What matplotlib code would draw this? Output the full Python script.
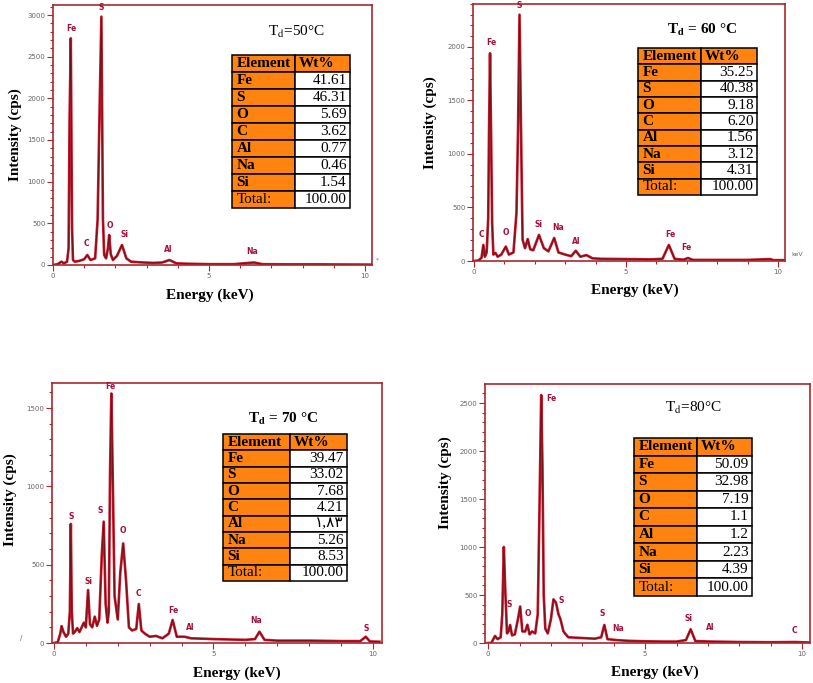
import matplotlib
matplotlib.use('Agg')
import matplotlib.pyplot as plt
from matplotlib.ticker import MultipleLocator

plt.rcParams['mathtext.fontset'] = 'stix'
plt.rcParams['font.family'] = ['Liberation Serif', 'DejaVu Sans']

# Data
elements = ['Fe', 'S', 'O', 'C', 'Al', 'Na', 'Si', 'Total:']
wt_50 = ['41.61', '46.31', '5.69', '3.62', '0.77', '0.46', '1.54', '100.00']
wt_60 = ['35.25', '40.38', '9.18', '6.20', '1.56', '3.12', '4.31', '100.00']
wt_70 = ['39.47', '33.02', '7.68', '4.21', '\u0661,\u0668\u0663', '5.26', '8.53', '100.00']
wt_80 = ['50.09', '32.98', '7.19', '1.1', '1.2', '2.23', '4.39', '100.00']

# spectra (keV, cps)
energy_50 = [0.0, 0.15, 0.27, 0.35, 0.45, 0.50, 0.53, 0.57, 0.61, 0.64, 0.70, 0.85, 1.00, 1.10, 1.20,
             1.35, 1.43, 1.48, 1.55, 1.60, 1.64, 1.70, 1.76, 1.80, 1.85, 1.92, 2.05, 2.21, 2.35, 2.50,
             2.68, 2.90, 3.20, 3.50, 3.73, 3.95, 4.30, 5.0, 5.8, 6.44, 6.7, 7.5, 8.5, 9.5, 10.2]
counts_50 = [0, 10, 40, 20, 40, 200, 1700, 2720, 450, 60, 40, 50, 70, 120, 60,
             80, 550, 1600, 2980, 550, 120, 80, 200, 360, 130, 60, 110, 240, 80, 40,
             35, 30, 25, 30, 60, 20, 15, 10, 10, 30, 10, 8, 8, 6, 5]

energy_60 = [0.0, 0.15, 0.25, 0.31, 0.36, 0.42, 0.47, 0.50, 0.53, 0.56, 0.60, 0.64, 0.71, 0.78, 0.90,
             1.05, 1.15, 1.30, 1.40, 1.45, 1.50, 1.55, 1.60, 1.68, 1.77, 1.85, 1.95, 2.14, 2.30, 2.45,
             2.64, 2.78, 3.0, 3.2, 3.35, 3.5, 3.7, 3.9, 4.2, 5.0, 5.8, 6.2, 6.41, 6.6, 6.9,
             7.04, 7.2, 8.0, 9.0, 9.74, 9.85, 10.2]
counts_60 = [0, 5, 30, 150, 40, 80, 400, 1280, 1940, 1280, 350, 60, 75, 40, 60,
             135, 60, 80, 450, 1200, 2300, 1200, 200, 120, 205, 110, 100, 243, 120, 90,
             215, 80, 60, 45, 96, 40, 55, 25, 20, 18, 15, 20, 150, 20, 12,
             28, 10, 10, 10, 18, 8, 8]

energy_70 = [0.0, 0.12, 0.20, 0.24, 0.30, 0.38, 0.45, 0.50, 0.53, 0.56, 0.60, 0.67, 0.73, 0.80, 0.94,
             1.0, 1.07, 1.13, 1.20, 1.28, 1.35, 1.42, 1.50, 1.56, 1.62, 1.68, 1.72, 1.76, 1.80, 1.84,
             1.90, 2.00, 2.08, 2.17, 2.26, 2.35, 2.45, 2.58, 2.66, 2.74, 2.85, 3.0, 3.2, 3.4, 3.6,
             3.72, 3.85, 4.09, 4.3, 5.0, 6.0, 6.3, 6.44, 6.6, 7.0, 8.0, 9.0, 9.6, 9.77, 9.9, 10.2]
counts_70 = [0, 5, 60, 108, 70, 40, 60, 200, 760, 200, 60, 75, 95, 70, 130,
             100, 338, 120, 100, 168, 110, 150, 560, 775, 250, 130, 200, 1100, 1593, 1100,
             300, 150, 450, 636, 400, 100, 80, 90, 249, 80, 60, 40, 45, 30, 60,
             147, 40, 40, 30, 25, 20, 25, 72, 20, 15, 15, 12, 12, 40, 10, 8]

energy_80 = [0.0, 0.1, 0.22, 0.30, 0.40, 0.45, 0.50, 0.54, 0.60, 0.65, 0.70, 0.76, 0.85, 0.95, 1.02,
             1.09, 1.18, 1.25, 1.32, 1.40, 1.50, 1.58, 1.64, 1.69, 1.73, 1.77, 1.82, 1.90, 2.00, 2.08,
             2.16, 2.24, 2.30, 2.40, 2.55, 2.8, 3.1, 3.4, 3.6, 3.70, 3.8, 4.1, 4.5, 5.0, 5.6,
             6.0, 6.3, 6.45, 6.6, 7.1, 8.0, 9.0, 9.78, 10.2]
counts_80 = [0, 0, 73, 40, 60, 300, 1000, 600, 100, 120, 188, 80, 90, 250, 380,
             120, 120, 190, 90, 120, 100, 300, 1500, 2583, 1830, 500, 150, 100, 250, 455,
             420, 300, 250, 120, 60, 55, 50, 45, 60, 188, 40, 30, 22, 18, 15,
             15, 30, 143, 20, 15, 10, 8, 10, 6]

# peak labels (name, keV, cps)
peaks_50 = ['Fe', 'S', 'C', 'O', 'Si', 'Al', 'Na']
peak_x_50 = [0.60, 1.55, 1.08, 1.83, 2.28, 3.69, 6.38]
peak_y_50 = [2785, 3040, 200, 420, 310, 130, 108]

peaks_60 = ['C', 'Fe', 'S', 'O', 'Si', 'Na', 'Al', 'Fe', 'Fe']
peak_x_60 = [0.26, 0.56, 1.48, 1.05, 2.14, 2.76, 3.38, 6.45, 7.0]
peak_y_60 = [205, 2000, 2345, 227, 300, 270, 143, 205, 80]

peaks_70 = ['S', 'Si', 'S', 'Fe', 'O', 'C', 'Fe', 'Al', 'Na', 'S']
peak_x_70 = [0.53, 1.07, 1.44, 1.78, 2.17, 2.66, 3.73, 4.27, 6.33, 9.77]
peak_y_70 = [780, 364, 817, 1608, 689, 287, 179, 72, 115, 64]

peaks_80 = ['Fe', 'S', 'O', 'S', 'S', 'Na', 'Si', 'Al', 'C']
peak_x_80 = [2.0, 0.67, 1.28, 2.32, 3.63, 4.14, 6.37, 7.07, 9.75]
peak_y_80 = [2500, 354, 260, 396, 260, 104, 208, 118, 83]

titles = [r'T$_\mathrm{d}$=50°C', r'T$_\mathbf{d}$ = 60 °C', r'T$_\mathbf{d}$ = 70 °C', r'T$_\mathrm{d}$=80°C']
title_bold = [False, True, True, False]

W, H = 813, 683
spine_c = '#a8282e'
orange = '#ff8311'


def fx(x):
    return x / W


def fy(y):
    return 1 - y / H


fig = plt.figure(figsize=(W / 100, H / 100), dpi=100)

panels = [
    dict(e=energy_50, c=counts_50, pk=peaks_50, px=peak_x_50, py=peak_y_50, wt=wt_50,
         ax=(53, 5, 372, 265), xlim=(0, 10.22), ylim=(0, 3120),
         tb=(232, 55, 350, 208), split=0.53, title=(296, 32), yl=(15, 135), xl=(210, 295)),
    dict(e=energy_60, c=counts_60, pk=peaks_60, px=peak_x_60, py=peak_y_60, wt=wt_60,
         ax=(473, 4, 785, 261), xlim=(-0.03, 10.23), ylim=(0, 2400),
         tb=(638, 48, 757, 195), split=0.53, title=(702, 30), yl=(430, 123), xl=(635, 290)),
    dict(e=energy_70, c=counts_70, pk=peaks_70, px=peak_x_70, py=peak_y_70, wt=wt_70,
         ax=(52, 383, 382, 643), xlim=(-0.06, 10.28), ylim=(0, 1660),
         tb=(223, 434, 347, 581), split=0.54, title=(283, 419), yl=(10, 500), xl=(237, 673)),
    dict(e=energy_80, c=counts_80, pk=peaks_80, px=peak_x_80, py=peak_y_80, wt=wt_80,
         ax=(485, 384, 810, 643), xlim=(-0.1, 10.25), ylim=(0, 2698),
         tb=(634, 438, 752, 596), split=0.53, title=(693, 408), yl=(445, 483), xl=(655, 672)),
]

for k, p in enumerate(panels):
    x0, y0, x1, y1 = p['ax']
    ax = fig.add_axes([fx(x0), fy(y1), (x1 - x0) / W, (y1 - y0) / H])
    ax.plot(p['e'], p['c'], color='#c0182a', lw=1.9)
    ax.plot(p['e'], p['c'], color='#3a0a0a', lw=0.5, alpha=0.7)
    ax.set_xlim(*p['xlim'])
    ax.set_ylim(*p['ylim'])
    for s in ax.spines.values():
        s.set_color(spine_c)
        s.set_linewidth(1.2)
    ax.xaxis.set_major_locator(MultipleLocator(5))
    ax.xaxis.set_minor_locator(MultipleLocator(1))
    ax.yaxis.set_major_locator(MultipleLocator(500))
    ax.yaxis.set_minor_locator(MultipleLocator(100))
    ax.tick_params(which='both', colors=spine_c, labelcolor='#666666', labelsize=5,
                   direction='out', width=0.8, pad=1.5)
    ax.tick_params(which='major', length=4)
    ax.tick_params(which='minor', length=2)
    for lab in ax.get_xticklabels() + ax.get_yticklabels():
        lab.set_fontfamily('DejaVu Sans')

    for name, ex, cy in zip(p['pk'], p['px'], p['py']):
        ax.text(ex, cy, name, color='#a3103a', fontsize=5.5, fontweight='bold',
                family='DejaVu Sans', ha='center', va='bottom')

    # title and axis labels
    tx, ty = p['title']
    fig.text(fx(tx), fy(ty), titles[k], fontsize=11, ha='center', va='center',
             fontweight='bold' if title_bold[k] else 'normal')
    lx, ly = p['yl']
    fig.text(fx(lx), fy(ly), 'Intensity (cps)', rotation=90, fontsize=11,
             fontweight='bold', ha='center', va='center')
    lx, ly = p['xl']
    fig.text(fx(lx), fy(ly), 'Energy (keV)', fontsize=11, fontweight='bold',
             ha='center', va='center')

    # composition table
    t0, u0, t1, u1 = p['tb']
    tax = fig.add_axes([fx(t0), fy(u1), (t1 - t0) / W, (u1 - u0) / H])
    tax.axis('off')
    rows = [['Element', 'Wt%']] + [[e, v] for e, v in zip(elements, p['wt'])]
    colours = [[orange, orange]] + [[orange, 'white'] for _ in elements]
    tbl = tax.table(cellText=rows, cellColours=colours, bbox=[0, 0, 1, 1],
                    colWidths=[p['split'], 1 - p['split']])
    tbl.auto_set_font_size(False)
    for (r, c), cell in tbl.get_celld().items():
        cell.set_edgecolor('black')
        cell.set_linewidth(1.1)
        txt = cell.get_text()
        txt.set_fontsize(11)
        txt.set_fontfamily(['Liberation Serif', 'DejaVu Sans'])
        if r == 0 or (c == 0 and rows[r][0] != 'Total:'):
            txt.set_fontweight('bold')
        if r > 0 and c == 1:
            cell._loc = 'right'
            cell.PAD = 0.06
            txt.set_horizontalalignment('right')
        else:
            cell._loc = 'left'
            cell.PAD = 0.07
            txt.set_horizontalalignment('left')

fig.text(fx(791), fy(256), 'keV', fontsize=4.5, color='#666666', family='DejaVu Sans')
fig.text(fx(376), fy(262), '*', fontsize=4.5, color='#666666', family='DejaVu Sans')
fig.text(fx(20), fy(640), '/', fontsize=5, color='#666666', family='DejaVu Sans')

fig.savefig('out.png', dpi=100)
